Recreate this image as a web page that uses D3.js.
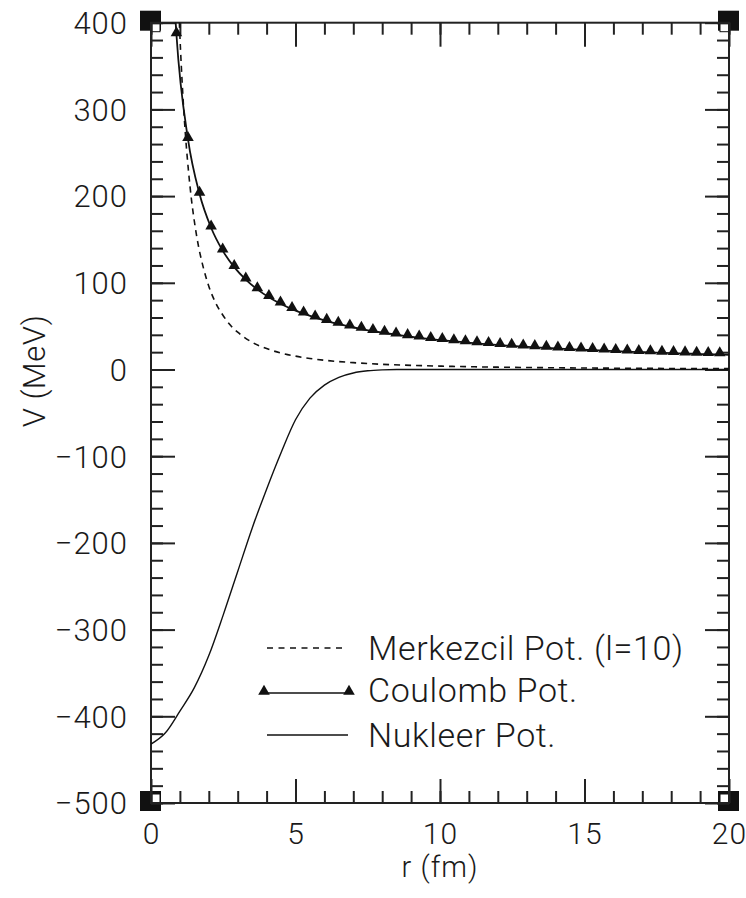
<!DOCTYPE html>
<html>
<head>
<meta charset="utf-8">
<script src="https://cdn.jsdelivr.net/npm/d3@7"></script>
<style>
  body { margin: 0; background: #fff; }
  text { font-family: Roboto, "Liberation Sans", Arial, sans-serif; font-weight: 300; fill: #1a1a1a; }
</style>
</head>
<body>
<svg id="chart" width="746" height="898"></svg>
<script>
// tick labels
const xTickLabels = [0, 5, 10, 15, 20]
const yTickLabels = [400, 300, 200, 100, 0, -100, -200, -300, -400, -500]

// Coulomb potential (with markers), first point only continues the line to the top
const coulombR = [0.85, 0.88, 1.28, 1.68, 2.08, 2.48, 2.88, 3.28, 3.68, 4.08, 4.48, 4.88, 5.28, 5.68, 6.08,
  6.48, 6.88, 7.28, 7.68, 8.08, 8.48, 8.88, 9.28, 9.68, 10.08, 10.48, 10.88, 11.28, 11.68, 12.08,
  12.48, 12.88, 13.28, 13.68, 14.08, 14.48, 14.88, 15.28, 15.68, 16.08, 16.48, 16.88, 17.28, 17.68,
  18.08, 18.48, 18.88, 19.28, 19.68, 20.0]
const coulombV = [402, 386.4, 265.6, 202.4, 163.5, 137.1, 118.1, 103.7, 92.4, 83.3, 75.9, 69.7, 64.4, 59.9, 55.9,
  52.5, 49.4, 46.7, 44.3, 42.1, 40.1, 38.3, 36.6, 35.1, 33.7, 32.4, 31.3, 30.1, 29.1, 28.1,
  27.2, 26.4, 25.6, 24.9, 24.1, 23.5, 22.8, 22.3, 21.7, 21.1, 20.6, 20.1, 19.7, 19.2,
  18.8, 18.4, 18.0, 17.6, 17.3, 17.0]

// centrifugal potential (l=10)
const centR = [0.98, 1.0, 1.1, 1.2, 1.3, 1.4, 1.5, 1.6, 1.8, 2.0, 2.25, 2.5, 2.75, 3.0, 3.5, 4.0, 4.5, 5.0,
  5.5, 6.0, 7.0, 8.0, 9.0, 10.0, 11.0, 12.0, 14.0, 16.0, 18.0, 20.0]
const centV = [401, 385, 318, 267, 228, 196, 171, 150, 119, 96, 76, 62, 51, 43, 31.4, 24.1, 19.0, 15.4,
  12.7, 10.7, 7.9, 6.0, 4.8, 3.9, 3.2, 2.7, 2.0, 1.5, 1.2, 1.0]

// nuclear potential
const nucR = [0, 0.5, 1.0, 1.5, 2.0, 2.5, 3.0, 3.5, 4.0, 4.5, 5.0, 5.5, 6.0, 6.5, 7.0, 7.5, 8.0, 8.5, 20]
const nucV = [-432, -419, -394, -367, -330, -283, -233, -183, -138, -96, -58, -33, -18, -9, -4, -1.5, -0.4, 0, 0]

const legendLabels = ['Merkezcil Pot. (l=10)', 'Coulomb Pot.', 'Nukleer Pot.']

const svg = d3.select('#chart')
const fontSize = 31

const x = d3.scaleLinear().domain([0, 20]).range([151, 729])
const y = d3.scaleLinear().domain([-500, 400]).range([803, 22.7])
const [x0, x1] = x.range()
const [y0, y1] = y.range()

svg.append('defs').append('clipPath').attr('id', 'plotClip')
  .append('rect')
  .attr('x', x0).attr('y', y1)
  .attr('width', x1 - x0).attr('height', y0 - y1)

// corner squares
const corners = [[x0, y1, 1, 1], [x1, y1, -1, 1], [x0, y0, 1, -1], [x1, y0, -1, -1]]
svg.append('g').selectAll('rect')
  .data(corners)
  .enter()
  .append('rect')
  .attr('x', d => d[0] - 11)
  .attr('y', d => d[1] - 12)
  .attr('width', 21)
  .attr('height', 20)
  .attr('fill', '#111')
svg.append('g').selectAll('rect')
  .data(corners)
  .enter()
  .append('rect')
  .attr('x', d => d[2] > 0 ? d[0] : d[0] - 9)
  .attr('y', d => d[3] > 0 ? d[1] : d[1] - 9)
  .attr('width', 9)
  .attr('height', 9)
  .attr('fill', '#fff')
  .attr('stroke', '#111')
  .attr('stroke-width', 1)

// ticks on all four sides, pointing inward
function styleTicks(g) {
  g.select('.domain').remove()
  g.selectAll('line').attr('stroke', '#222').attr('stroke-width', 2)
}
const xMinor = x.ticks(20)
const yMinor = y.ticks(45)
const sides = [
  [d3.axisBottom(x), `translate(0,${y0})`, xMinor, xTickLabels],
  [d3.axisTop(x), `translate(0,${y1})`, xMinor, xTickLabels],
  [d3.axisLeft(y), `translate(${x0},0)`, yMinor, yTickLabels],
  [d3.axisRight(y), `translate(${x1},0)`, yMinor, yTickLabels]
]
sides.forEach(([axis, tr, minor, major]) => {
  svg.append('g').attr('transform', tr)
    .call(axis.tickValues(minor).tickSize(-12).tickSizeOuter(0).tickFormat(''))
    .call(styleTicks)
  svg.append('g').attr('transform', tr)
    .call(axis.tickValues(major).tickSize(-24).tickSizeOuter(0).tickFormat(''))
    .call(styleTicks)
})

// frame
svg.append('rect')
  .attr('x', x0).attr('y', y1)
  .attr('width', x1 - x0).attr('height', y0 - y1)
  .attr('fill', 'none')
  .attr('stroke', '#222')
  .attr('stroke-width', 2)

// tick labels
const xLab = svg.append('g').attr('transform', `translate(0,${y0})`)
  .call(d3.axisBottom(x).tickValues(xTickLabels).tickSize(0).tickPadding(20))
xLab.select('.domain').remove()
xLab.selectAll('text').attr('font-family', null).attr('font-size', 30).attr('letter-spacing', 1)

const yLab = svg.append('g').attr('transform', `translate(${x0},0)`)
  .call(d3.axisLeft(y).tickValues(yTickLabels).tickSize(0).tickPadding(23))
yLab.select('.domain').remove()
yLab.selectAll('text').attr('font-family', null).attr('font-size', fontSize)
  .attr('dy', '0.35em').attr('letter-spacing', 1)

// axis titles
svg.append('text')
  .attr('x', 440).attr('y', 877)
  .attr('text-anchor', 'middle')
  .attr('font-size', 29)
  .attr('letter-spacing', 1)
  .text('r (fm)')
svg.append('text')
  .attr('transform', 'translate(45,371) rotate(-90)')
  .attr('text-anchor', 'middle')
  .attr('font-size', fontSize)
  .attr('letter-spacing', 0.5)
  .text('V (MeV)')

// curves
const plotG = svg.append('g').attr('clip-path', 'url(#plotClip)')
const line = d3.line()
  .x(d => x(d[0]))
  .y(d => y(d[1]))
  .curve(d3.curveMonotoneX)

const nucData = nucR.map((r, i) => [r, nucV[i]])
const centData = centR.map((r, i) => [r, centV[i]])
const coulData = coulombR.map((r, i) => [r, coulombV[i]])

plotG.append('path').datum(nucData)
  .attr('d', line).attr('fill', 'none')
  .attr('stroke', '#111').attr('stroke-width', 1.4)

plotG.append('path').datum(centData)
  .attr('d', line).attr('fill', 'none')
  .attr('stroke', '#111').attr('stroke-width', 1.6)
  .attr('stroke-dasharray', '6,5')

plotG.append('path').datum(coulData)
  .attr('d', line).attr('fill', 'none')
  .attr('stroke', '#111').attr('stroke-width', 1.8)

const tri = d3.symbol().type(d3.symbolTriangle).size(58)
plotG.append('g').selectAll('path')
  .data(coulData.slice(1, -1))
  .enter()
  .append('path')
  .attr('d', tri)
  .attr('transform', d => `translate(${x(d[0])},${y(d[1]) - 1.5})`)
  .attr('fill', '#111')

// legend
const legendG = svg.append('g')
const rows = [[648, 660], [693, 702], [735, 747]]
legendG.append('line')
  .attr('x1', 267).attr('x2', 347).attr('y1', rows[0][0]).attr('y2', rows[0][0])
  .attr('stroke', '#111').attr('stroke-width', 1.6).attr('stroke-dasharray', '6,5.5')
legendG.append('line')
  .attr('x1', 264).attr('x2', 349).attr('y1', rows[1][0]).attr('y2', rows[1][0])
  .attr('stroke', '#111').attr('stroke-width', 1.6)
legendG.selectAll('.lt')
  .data([264, 349])
  .enter()
  .append('path')
  .attr('class', 'lt')
  .attr('d', tri)
  .attr('transform', d => `translate(${d},${rows[1][0] - 1.5})`)
  .attr('fill', '#111')
legendG.append('line')
  .attr('x1', 267).attr('x2', 348).attr('y1', rows[2][0]).attr('y2', rows[2][0])
  .attr('stroke', '#111').attr('stroke-width', 1.4)

legendG.selectAll('text')
  .data(legendLabels)
  .enter()
  .append('text')
  .attr('x', 368)
  .attr('y', (d, i) => rows[i][1])
  .attr('font-size', 34)
  .attr('letter-spacing', 0.6)
  .text(d => d)
</script>
</body>
</html>
